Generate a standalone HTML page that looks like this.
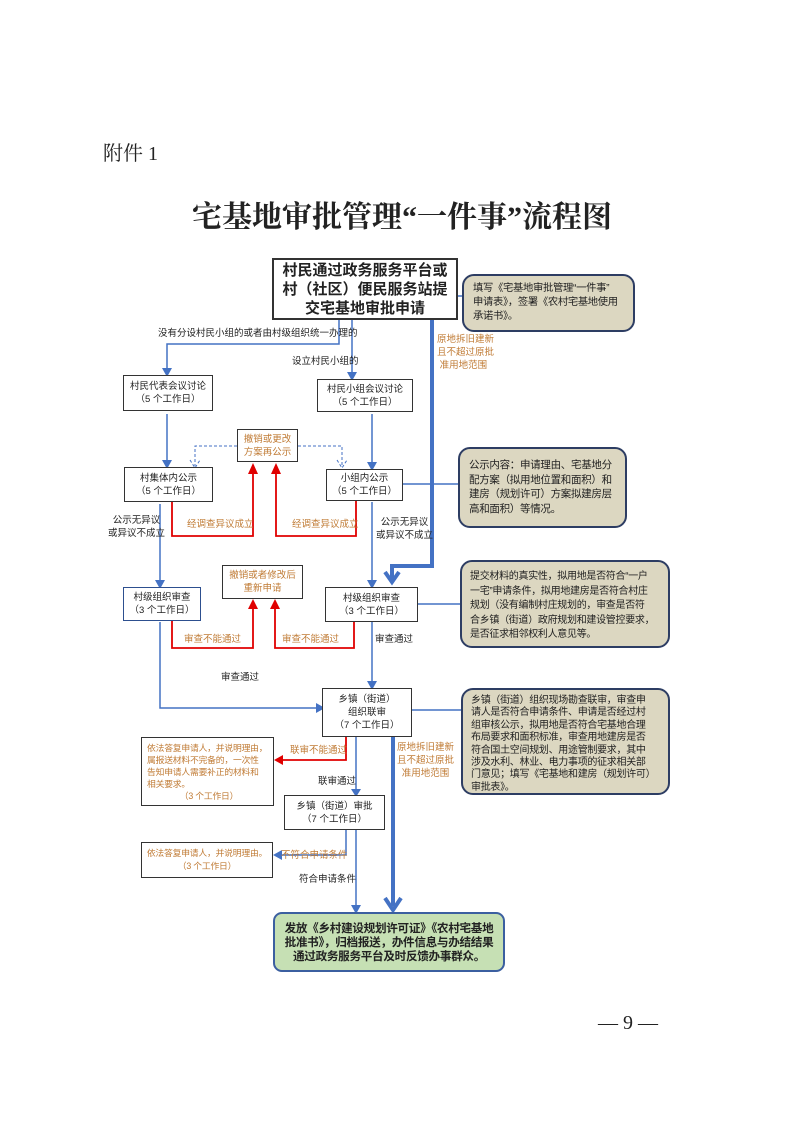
<!DOCTYPE html>
<html><head><meta charset="utf-8"><style>
body{margin:0;background:#fff}
#p{position:relative;width:794px;height:1122px;overflow:hidden;font-family:"Liberation Sans","Noto Sans CJK SC",sans-serif;color:#222}
.a{position:absolute}
.b{position:absolute;border:1.5px solid #333;background:#fff;text-align:center;font-size:9.5px;line-height:13px;box-sizing:border-box;display:flex;flex-direction:column;justify-content:center}
.n{position:absolute;background:#dcd7c1;border:2px solid #2d3d63;border-radius:12px;font-size:10px;line-height:14px;box-sizing:border-box;padding:5px 7px;white-space:nowrap;letter-spacing:-0.3px}
.o{color:#c07b35}
.t{position:absolute;font-size:9.5px;line-height:13px;white-space:nowrap}
</style></head><body><div id="p">
<div class="a" style="left:103px;top:137px;font-size:20px;font-family:'Liberation Serif','Noto Serif CJK SC',serif">附件 1</div>
<div class="a" style="left:192px;top:192px;font-size:30px;font-weight:bold;font-family:'Liberation Serif','Noto Serif CJK SC',serif;white-space:nowrap">宅基地审批管理“一件事”流程图</div>

<svg class="a" style="left:0;top:0" width="794" height="1122">
<g stroke="#4472c4" stroke-width="1.5" fill="none">
<line x1="458" y1="296" x2="463" y2="296"/>
<line x1="403" y1="484" x2="459" y2="484"/>
<line x1="418" y1="604" x2="460" y2="604"/>
<line x1="412" y1="710" x2="462" y2="710"/>
<polyline points="339,320 339,344 167,344 167,368"/>
<line x1="352" y1="320" x2="352" y2="372"/>
<line x1="167" y1="414" x2="167" y2="460"/>
<line x1="372" y1="414" x2="372" y2="462"/>
<line x1="160" y1="504" x2="160" y2="582"/>
<line x1="372" y1="502" x2="372" y2="582"/>
<polyline points="160,622 160,708 318,708"/>
<line x1="372" y1="622" x2="372" y2="684"/>
<line x1="356" y1="737" x2="356" y2="792"/>
<polyline points="346,830 346,855 278,855"/>
<line x1="356" y1="830" x2="356" y2="908"/>
</g>
<g fill="#4472c4">
<path d="M162,368 L172,368 L167,377 Z"/>
<path d="M347,372 L357,372 L352,381 Z"/>
<path d="M162,460 L172,460 L167,469 Z"/>
<path d="M367,462 L377,462 L372,471 Z"/>
<path d="M155,580 L165,580 L160,589 Z"/>
<path d="M367,580 L377,580 L372,589 Z"/>
<path d="M316,703 L316,713 L325,708 Z"/>
<path d="M367,681 L377,681 L372,690 Z"/>
<path d="M351,789 L361,789 L356,797 Z"/>
<path d="M282,850 L282,860 L273,855 Z"/>
<path d="M351,905 L361,905 L356,914 Z"/>
</g>
<g stroke="#4472c4" stroke-width="4" fill="none">
<polyline points="432,320 432,566 392,566 392,580"/>
<polyline points="385,572 392,582 399,572"/>
<line x1="393" y1="737" x2="393" y2="906"/>
<polyline points="385,898 393,910 401,898"/>
</g>
<g stroke="#4472c4" stroke-width="1" stroke-dasharray="3,2" fill="none">
<polyline points="237,446 195,446 195,466"/>
<polyline points="298,446 342,446 342,466"/>
<polyline points="190,460 195,468 200,460"/>
<polyline points="337,460 342,468 347,460"/>
</g>
<g stroke="#e00000" stroke-width="1.8" fill="none">
<polyline points="172,502 172,536 253,536 253,472"/>
<polyline points="356,500 356,536 276,536 276,472"/>
<polyline points="172,620 172,648 253,648 253,608"/>
<polyline points="354,621 354,648 275,648 275,608"/>
<polyline points="346,737 346,760 282,760"/>
</g>
<g fill="#e00000">
<path d="M248,474 L258,474 L253,463 Z"/>
<path d="M271,474 L281,474 L276,463 Z"/>
<path d="M248,609 L258,609 L253,599 Z"/>
<path d="M270,609 L280,609 L275,599 Z"/>
<path d="M283,755 L283,765 L274,760 Z"/>
</g>
</svg>

<div class="b" style="left:272px;top:258px;width:186px;height:62px;font-size:15px;line-height:19px;font-weight:bold;border-width:2px">村民通过政务服务平台或<br>村（社区）便民服务站提<br>交宅基地审批申请</div>
<div class="n" style="left:462px;top:274px;width:173px;height:58px;padding:6px 9px;font-size:10.3px;line-height:14px">填写《宅基地审批管理“一件事”<br>申请表》，签署《农村宅基地使用<br>承诺书》。</div>
<div class="t o" style="left:437px;top:333px;line-height:13px">原地拆旧建新<br>且不超过原批<br>&nbsp;准用地范围</div>
<div class="t" style="left:158px;top:327px">没有分设村民小组的或者由村级组织统一办理的</div>
<div class="t" style="left:292px;top:355px">设立村民小组的</div>

<div class="b" style="left:123px;top:375px;width:90px;height:36px">村民代表会议讨论<br>（5 个工作日）</div>
<div class="b" style="left:317px;top:379px;width:96px;height:33px">村民小组会议讨论<br>（5 个工作日）</div>
<div class="b o" style="left:237px;top:429px;width:61px;height:33px">撤销或更改<br>方案再公示</div>
<div class="b" style="left:124px;top:467px;width:89px;height:35px">村集体内公示<br>（5 个工作日）</div>
<div class="b" style="left:326px;top:469px;width:77px;height:32px">小组内公示<br>（5 个工作日）</div>
<div class="n" style="left:458px;top:447px;width:169px;height:81px;padding:9px 9px;font-size:10.5px;line-height:14.5px">公示内容：申请理由、宅基地分<br>配方案（拟用地位置和面积）和<br>建房（规划许可）方案拟建房层<br>高和面积）等情况。</div>
<div class="t" style="left:108px;top:514px;text-align:center">公示无异议<br>或异议不成立</div>
<div class="t" style="left:376px;top:516px;text-align:center">公示无异议<br>或异议不成立</div>
<div class="t o" style="left:187px;top:518px">经调查异议成立</div>
<div class="t o" style="left:292px;top:518px">经调查异议成立</div>

<div class="b" style="left:123px;top:587px;width:78px;height:34px;border-color:#2d4f8f">村级组织审查<br>（3 个工作日）</div>
<div class="b o" style="left:222px;top:565px;width:81px;height:34px">撤销或者修改后<br>重新申请</div>
<div class="b" style="left:325px;top:587px;width:93px;height:35px">村级组织审查<br>（3 个工作日）</div>
<div class="n" style="left:460px;top:560px;width:210px;height:88px;padding:8px 8px;line-height:14.5px">提交材料的真实性，拟用地是否符合“一户<br>一宅”申请条件，拟用地建房是否符合村庄<br>规划（没有编制村庄规划的，审查是否符<br>合乡镇（街道）政府规划和建设管控要求，<br>是否征求相邻权利人意见等。</div>
<div class="t o" style="left:184px;top:633px">审查不能通过</div>
<div class="t o" style="left:282px;top:633px">审查不能通过</div>
<div class="t" style="left:375px;top:633px">审查通过</div>
<div class="t" style="left:221px;top:671px">审查通过</div>

<div class="b" style="left:322px;top:688px;width:90px;height:49px">乡镇（街道）<br>组织联审<br>（7 个工作日）</div>
<div class="n" style="left:461px;top:688px;width:209px;height:107px;padding:5px 8px;line-height:12.4px">乡镇（街道）组织现场勘查联审，审查申<br>请人是否符合申请条件、申请是否经过村<br>组审核公示，拟用地是否符合宅基地合理<br>布局要求和面积标准，审查用地建房是否<br>符合国土空间规划、用途管制要求，其中<br>涉及水利、林业、电力事项的征求相关部<br>门意见；填写《宅基地和建房（规划许可）<br>审批表》。</div>
<div class="b o" style="left:141px;top:737px;width:133px;height:69px;text-align:left;padding:0 2px 0 5px;font-size:8.8px;line-height:12px;white-space:nowrap;letter-spacing:-0.2px">依法答复申请人，并说明理由，<br>属报送材料不完备的，一次性<br>告知申请人需要补正的材料和<br>相关要求。<span style="text-align:center;display:block">（3 个工作日）</span></div>
<div class="t o" style="left:290px;top:744px">联审不能通过</div>
<div class="t" style="left:318px;top:775px">联审通过</div>
<div class="t o" style="left:397px;top:741px;text-align:center;line-height:13px">原地拆旧建新<br>且不超过原批<br>准用地范围</div>
<div class="b" style="left:284px;top:795px;width:101px;height:35px">乡镇（街道）审批<br>（7 个工作日）</div>
<div class="t o" style="left:281px;top:849px">不符合申请条件</div>
<div class="b o" style="left:141px;top:842px;width:132px;height:36px;font-size:8.8px;letter-spacing:-0.2px">依法答复申请人，并说明理由。<br>（3 个工作日）</div>
<div class="t" style="left:299px;top:873px">符合申请条件</div>

<div class="a" style="left:273px;top:912px;width:232px;height:60px;background:#c6e0b4;border:2px solid #3b5fa0;border-radius:9px;box-sizing:border-box;font-size:11.6px;font-weight:bold;line-height:14px;text-align:center;padding-top:8px;letter-spacing:-0.3px">发放《乡村建设规划许可证》《农村宅基地<br>批准书》，归档报送，办件信息与办结结果<br>通过政务服务平台及时反馈办事群众。</div>

<div class="a" style="left:598px;top:1012px;font-size:20px;font-family:'Liberation Serif','Noto Serif CJK SC',serif;white-space:nowrap">— 9 —</div>
</div></body></html>
